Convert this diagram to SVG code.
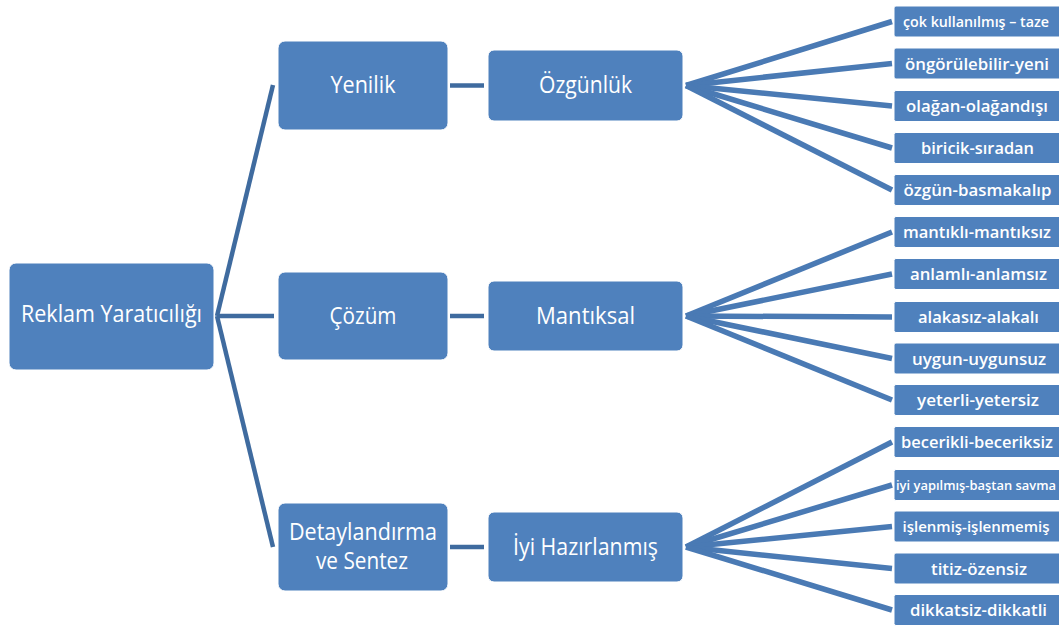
<svg xmlns="http://www.w3.org/2000/svg" width="1059" height="626" viewBox="0 0 1059 626">
  <style>
    .box { fill: #4f81bd; stroke: #ffffff; stroke-width: 1; }
    .lbl { fill: #ffffff; font-family: "Open Sans", "Noto Sans", sans-serif; text-anchor: middle; }
    .main { font-size: 23px; }
    .leaf { font-size: 17px; font-weight: 600; }
    .tight { font-size: 15px; }
    .small { font-size: 12px; font-weight: 600; }
    .trunk { stroke: #3f6b9f; stroke-width: 4.5; fill: none; }
    .fan { stroke: #4a7ab4; stroke-width: 5.5; fill: none; stroke-linecap: butt; }
  </style>

  <!-- connectors -->
  <g id="connectors">
    <line class="trunk" x1="217" y1="316" x2="273" y2="85"/>
    <line class="trunk" x1="217" y1="316" x2="274" y2="316"/>
    <line class="trunk" x1="217" y1="316" x2="273" y2="547"/>

    <line class="trunk" x1="450" y1="85.5" x2="484" y2="85.5"/>
    <line class="trunk" x1="450" y1="316" x2="484" y2="316"/>
    <line class="trunk" x1="450" y1="547" x2="484" y2="547"/>

    <line class="fan" x1="686" y1="85.5" x2="892" y2="21.5"/>
    <line class="fan" x1="686" y1="85.5" x2="892" y2="63.5"/>
    <line class="fan" x1="686" y1="85.5" x2="892" y2="106"/>
    <line class="fan" x1="686" y1="85.5" x2="892" y2="148"/>
    <line class="fan" x1="686" y1="85.5" x2="892" y2="190"/>

    <line class="fan" x1="686" y1="316" x2="892" y2="232"/>
    <line class="fan" x1="686" y1="316" x2="892" y2="274"/>
    <line class="fan" x1="686" y1="316" x2="892" y2="317"/>
    <line class="fan" x1="686" y1="316" x2="892" y2="358.5"/>
    <line class="fan" x1="686" y1="316" x2="892" y2="400"/>

    <line class="fan" x1="686" y1="547" x2="892" y2="442"/>
    <line class="fan" x1="686" y1="547" x2="892" y2="485"/>
    <line class="fan" x1="686" y1="547" x2="892" y2="526.5"/>
    <line class="fan" x1="686" y1="547" x2="892" y2="568.5"/>
    <line class="fan" x1="686" y1="547" x2="892" y2="610"/>
  </g>

  <!-- root -->
  <g id="root">
    <rect class="box" x="9" y="263" width="205" height="107" rx="7"/>
    <text class="lbl main" x="111.5" y="322" textLength="181" lengthAdjust="spacingAndGlyphs">Reklam Yaratıcılığı</text>
  </g>

  <!-- first level -->
  <g id="yenilik">
    <rect class="box" x="278" y="41" width="170" height="89" rx="7"/>
    <text class="lbl main" x="363" y="93" textLength="65" lengthAdjust="spacingAndGlyphs">Yenilik</text>
  </g>
  <g id="cozum">
    <rect class="box" x="278" y="272" width="170" height="88" rx="7"/>
    <text class="lbl main" x="363" y="324" textLength="67" lengthAdjust="spacingAndGlyphs">Çözüm</text>
  </g>
  <g id="detaylandirma">
    <rect class="box" x="278" y="503" width="170" height="88" rx="7"/>
    <text class="lbl main" x="363" y="540" textLength="148" lengthAdjust="spacingAndGlyphs">Detaylandırma</text>
    <text class="lbl main" x="362" y="569" textLength="92" lengthAdjust="spacingAndGlyphs">ve Sentez</text>
  </g>

  <!-- second level -->
  <g id="ozgunluk">
    <rect class="box" x="488" y="50" width="195" height="71" rx="6"/>
    <text class="lbl main" x="585.5" y="93" textLength="93" lengthAdjust="spacingAndGlyphs">Özgünlük</text>
  </g>
  <g id="mantiksal">
    <rect class="box" x="488" y="281" width="195" height="70" rx="6"/>
    <text class="lbl main" x="585.5" y="324" textLength="99" lengthAdjust="spacingAndGlyphs">Mantıksal</text>
  </g>
  <g id="iyi-hazirlanmis">
    <rect class="box" x="488" y="512" width="195" height="70" rx="6"/>
    <text class="lbl main" x="585.5" y="555" textLength="145" lengthAdjust="spacingAndGlyphs">İyi Hazırlanmış</text>
  </g>

  <!-- leaves: Özgünlük -->
  <g id="leaf-1-1">
    <rect class="box" x="894" y="6" width="170" height="31" rx="2"/>
    <text class="lbl leaf tight" x="976" y="27" textLength="146" lengthAdjust="spacingAndGlyphs">çok kullanılmış – taze</text>
  </g>
  <g id="leaf-1-2">
    <rect class="box" x="894" y="48" width="170" height="31" rx="2"/>
    <text class="lbl leaf" x="977" y="69.5" textLength="144" lengthAdjust="spacingAndGlyphs">öngörülebilir-yeni</text>
  </g>
  <g id="leaf-1-3">
    <rect class="box" x="894" y="90.5" width="170" height="31" rx="2"/>
    <text class="lbl leaf" x="977" y="112" textLength="142" lengthAdjust="spacingAndGlyphs">olağan-olağandışı</text>
  </g>
  <g id="leaf-1-4">
    <rect class="box" x="894" y="132.5" width="170" height="31" rx="2"/>
    <text class="lbl leaf" x="977.5" y="154" textLength="113" lengthAdjust="spacingAndGlyphs">biricik-sıradan</text>
  </g>
  <g id="leaf-1-5">
    <rect class="box" x="894" y="174.5" width="170" height="31" rx="2"/>
    <text class="lbl leaf" x="977.5" y="196" textLength="148" lengthAdjust="spacingAndGlyphs">özgün-basmakalıp</text>
  </g>

  <!-- leaves: Mantıksal -->
  <g id="leaf-2-1">
    <rect class="box" x="894" y="216.5" width="170" height="31" rx="2"/>
    <text class="lbl leaf" x="977" y="238" textLength="148" lengthAdjust="spacingAndGlyphs">mantıklı-mantıksız</text>
  </g>
  <g id="leaf-2-2">
    <rect class="box" x="894" y="258.5" width="170" height="31" rx="2"/>
    <text class="lbl leaf" x="978.5" y="280" textLength="137" lengthAdjust="spacingAndGlyphs">anlamlı-anlamsız</text>
  </g>
  <g id="leaf-2-3">
    <rect class="box" x="894" y="301.5" width="170" height="31" rx="2"/>
    <text class="lbl leaf" x="978.5" y="323" textLength="121" lengthAdjust="spacingAndGlyphs">alakasız-alakalı</text>
  </g>
  <g id="leaf-2-4">
    <rect class="box" x="894" y="343" width="170" height="31" rx="2"/>
    <text class="lbl leaf" x="979" y="364.5" textLength="134" lengthAdjust="spacingAndGlyphs">uygun-uygunsuz</text>
  </g>
  <g id="leaf-2-5">
    <rect class="box" x="894" y="384.5" width="170" height="31" rx="2"/>
    <text class="lbl leaf" x="978" y="406" textLength="122" lengthAdjust="spacingAndGlyphs">yeterli-yetersiz</text>
  </g>

  <!-- leaves: İyi Hazırlanmış -->
  <g id="leaf-3-1">
    <rect class="box" x="894" y="426.5" width="170" height="31" rx="2"/>
    <text class="lbl leaf" x="977" y="448" textLength="152" lengthAdjust="spacingAndGlyphs">becerikli-beceriksiz</text>
  </g>
  <g id="leaf-3-2">
    <rect class="box" x="894" y="469.5" width="170" height="31" rx="2"/>
    <text class="lbl small" x="976" y="489.5" textLength="160" lengthAdjust="spacingAndGlyphs">iyi yapılmış-baştan savma</text>
  </g>
  <g id="leaf-3-3">
    <rect class="box" x="894" y="511" width="170" height="31" rx="2"/>
    <text class="lbl leaf tight" x="976" y="532" textLength="147" lengthAdjust="spacingAndGlyphs">işlenmiş-işlenmemiş</text>
  </g>
  <g id="leaf-3-4">
    <rect class="box" x="894" y="553" width="170" height="31" rx="2"/>
    <text class="lbl leaf" x="979" y="574.5" textLength="96" lengthAdjust="spacingAndGlyphs">titiz-özensiz</text>
  </g>
  <g id="leaf-3-5">
    <rect class="box" x="894" y="594.5" width="170" height="31" rx="2"/>
    <text class="lbl leaf" x="978.5" y="616" textLength="137" lengthAdjust="spacingAndGlyphs">dikkatsiz-dikkatli</text>
  </g>
</svg>
